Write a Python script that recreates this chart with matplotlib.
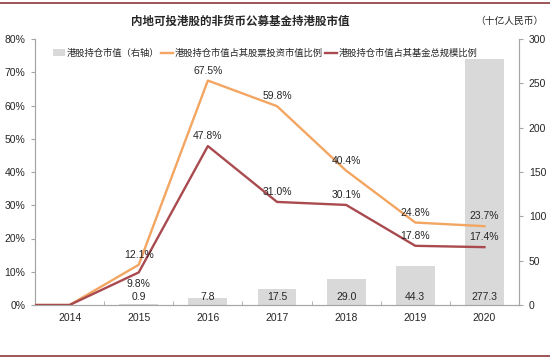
import matplotlib
matplotlib.use("Agg")
import matplotlib.pyplot as plt
from matplotlib.lines import Line2D
from matplotlib.patches import Patch
import numpy as np

plt.rcParams['font.family'] = ['Liberation Sans', 'Noto Sans CJK SC', 'DejaVu Sans']

years = ['2014', '2015', '2016', '2017', '2018', '2019', '2020']
holdings = [0.0, 0.9, 7.8, 17.5, 29.0, 44.3, 277.3]          # 十亿人民币 (right axis)
ratio_stock = [0.0, 12.1, 67.5, 59.8, 40.4, 24.8, 23.7]       # % of equity investment
ratio_fund = [0.0, 9.8, 47.8, 31.0, 30.1, 17.8, 17.4]         # % of total fund size
bar_labels = ['', '0.9', '7.8', '17.5', '29.0', '44.3', '277.3']

legend_labels = ['港股持仓市值（右轴）', '港股持仓市值占其股票投资市值比例', '港股持仓市值占其基金总规模比例']

c_bar = '#D9D9D9'
c_or = '#F3A562'
c_red = '#A94A4F'
c_axis = '#A6A6A6'
c_txt = '#262626'

fig = plt.figure(figsize=(5.5, 3.61), dpi=100)
ax = fig.add_axes([35/550, 1-305/361, (519-35)/550, (305-39)/361])
ax2 = ax.twinx()

x = np.arange(len(years))
ax2.bar(x, holdings, width=0.56, color=c_bar, zorder=1)
ax2.set_ylim(0, 300)
ax2.set_yticks(np.arange(0, 301, 50))

for i, lab in enumerate(bar_labels):
    if lab:
        ax2.annotate(lab, xy=(x[i], 0), xytext=(0, 6), textcoords='offset points',
                     ha='center', va='center', fontsize=7.5, color=c_txt)

# lines drawn on top axis
ax.set_zorder(ax2.get_zorder() + 1)
ax.patch.set_visible(False)
xl = np.concatenate([[-0.5], x])
ax.plot(xl, [ratio_stock[0]] + ratio_stock, color=c_or, lw=1.7, zorder=3)
ax.plot(xl, [ratio_fund[0]] + ratio_fund, color=c_red, lw=1.7, zorder=3)

for i in range(1, len(years)):
    ax.annotate(f'{ratio_stock[i]:.1f}%', xy=(x[i], ratio_stock[i]), xytext=(0, 7),
                textcoords='offset points', ha='center', va='center', fontsize=7.5, color=c_txt)
    off = -8 if i == 1 else 7
    ax.annotate(f'{ratio_fund[i]:.1f}%', xy=(x[i], ratio_fund[i]), xytext=(0, off),
                textcoords='offset points', ha='center', va='center', fontsize=7.5, color=c_txt)

ax.set_xlim(-0.5, len(years) - 0.5)
ax.set_ylim(0, 80)
ax.set_yticks(np.arange(0, 81, 10))
ax.set_yticklabels([f'{v}%' for v in range(0, 81, 10)])
ax.set_xticks(x)
ax.set_xticklabels(years)
ax.set_xticks(np.arange(0.5, len(years) - 1, 1), minor=True)

for a in (ax, ax2):
    for s in a.spines.values():
        s.set_color(c_axis)
        s.set_linewidth(0.8)
    a.spines['top'].set_visible(False)
    a.tick_params(labelsize=7.5, colors=c_txt)
ax.tick_params(axis='x', which='major', length=0, pad=6)
ax.tick_params(axis='x', which='minor', length=3, direction='in', color=c_axis)
ax.tick_params(axis='y', length=3, direction='out', color=c_axis, pad=4)
ax2.tick_params(axis='y', length=3, direction='out', color=c_axis, pad=4)

handles = [Patch(facecolor=c_bar, edgecolor='none'),
           Line2D([0], [0], color=c_or, lw=1.7),
           Line2D([0], [0], color=c_red, lw=1.7)]
ax.legend(handles, legend_labels, loc='upper left', bbox_to_anchor=(0.025, 0.985), ncol=3,
          frameon=False, handlelength=1.3, handletextpad=0.2, columnspacing=0.2,
          borderaxespad=0.2, prop={'family': ['Noto Sans CJK SC'], 'size': 6.7}, labelcolor=c_txt)

fig.text(240/550, 1-21/361, '内地可投港股的非货币公募基金持港股市值', ha='center', va='center',
         fontsize=8.3, fontweight='bold', color=c_txt, family=['Noto Sans CJK SC'])
fig.text(543/550, 1-21/361, '（十亿人民币）', ha='right', va='center',
         fontsize=7, color=c_txt, family=['Noto Sans CJK SC'])

fig.add_artist(Line2D([0, 1], [1-3/361, 1-3/361], color='#8B3A3A', lw=1.2, transform=fig.transFigure))
fig.add_artist(Line2D([0, 1], [1-356/361, 1-356/361], color='#8B3A3A', lw=1.2, transform=fig.transFigure))

fig.savefig('out.png', dpi=100)
